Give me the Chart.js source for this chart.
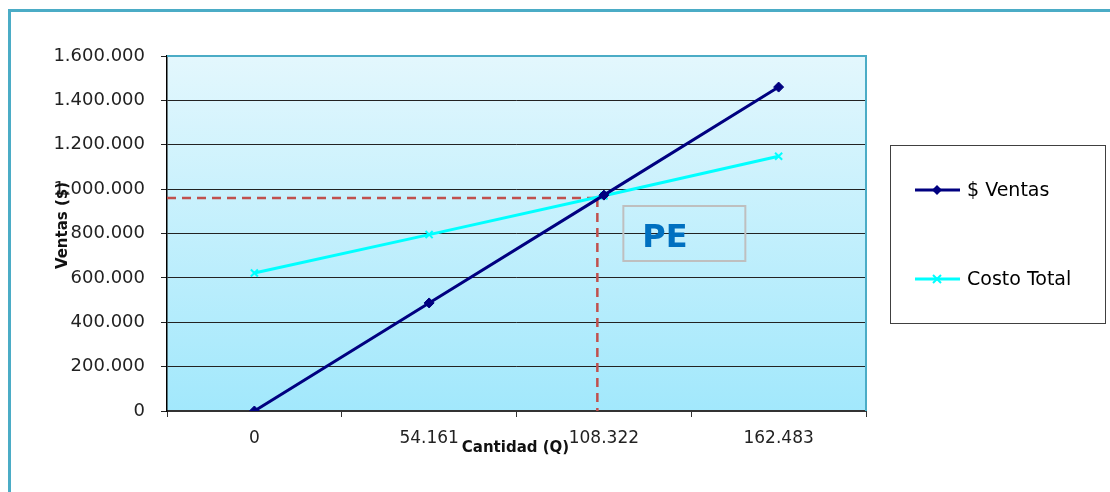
<!DOCTYPE html>
<html>
<head>
<meta charset="utf-8">
<script src="https://cdn.jsdelivr.net/npm/chart.js@4.4.1/dist/chart.umd.min.js"></script>
<style>
  html, body { margin: 0; padding: 0; background: #ffffff; }
  #wrap { position: relative; width: 1110px; height: 492px; }
  canvas { display: block; }
</style>
</head>
<body>
<div id="wrap"><canvas id="c" width="1110" height="492"></canvas></div>
<script>
// ---- data ----
const categories = ['0', '54.161', '108.322', '162.483'];
const quantities = [0, 54161, 108322, 162483];
const ventas = [0, 487000, 973000, 1460000];
const costoTotal = [622000, 795000, 970000, 1148000];
const yMin = 0;
const yMax = 1600000;
const yStep = 200000;
const breakEvenQ = 106300;
const breakEvenValue = 960000;
const seriesNames = ['$ Ventas', 'Costo Total'];
const xTitle = 'Cantidad (Q)';
const yTitle = 'Ventas ($)';
const peLabel = 'PE';

const FONT = '"DejaVu Sans", sans-serif';
const TEAL = '#4BACC6';

function fmt(v) {
  return String(Math.round(v)).replace(/\B(?=(\d{3})+(?!\d))/g, '.');
}

const decor = {
  id: 'decor',
  beforeDraw(chart) {
    const ctx = chart.ctx;
    const a = chart.chartArea;
    ctx.save();
    // outer frame
    ctx.fillStyle = TEAL;
    ctx.fillRect(8, 9, 3, 492 - 9);
    ctx.fillRect(8, 9, 1110 - 8, 3);
    // plot gradient
    const g = ctx.createLinearGradient(0, a.top, 0, a.bottom);
    g.addColorStop(0, '#e3f7fd');
    g.addColorStop(1, '#a2e8fc');
    ctx.fillStyle = g;
    ctx.fillRect(a.left, a.top, a.right - a.left, a.bottom - a.top);
    ctx.restore();
  },
  beforeDatasetsDraw(chart) {
    const ctx = chart.ctx;
    const a = chart.chartArea;
    const xs = chart.scales.x, ys = chart.scales.y;
    ctx.save();
    // plot border top/right
    ctx.strokeStyle = TEAL;
    ctx.lineWidth = 2;
    ctx.beginPath();
    ctx.moveTo(a.left, a.top);
    ctx.lineTo(a.right, a.top);
    ctx.lineTo(a.right, a.bottom);
    ctx.stroke();
    // break-even dashed lines
    const peIdx = breakEvenQ / quantities[1];
    const px = xs.getPixelForValue(peIdx);
    const py = ys.getPixelForValue(breakEvenValue);
    ctx.strokeStyle = '#C0504D';
    ctx.lineWidth = 2.5;
    ctx.setLineDash([9, 6]);
    ctx.beginPath();
    ctx.moveTo(a.left, py);
    ctx.lineTo(px + 10, py);
    ctx.moveTo(px, py);
    ctx.lineTo(px, a.bottom);
    ctx.stroke();
    ctx.setLineDash([]);
    // PE box
    const bx = px + 26, by = py + 8, bw = 122, bh = 55;
    ctx.strokeStyle = '#bfbfbf';
    ctx.lineWidth = 2;
    ctx.strokeRect(bx, by, bw, bh);
    ctx.fillStyle = '#0070C0';
    ctx.font = 'bold 32px ' + FONT;
    ctx.textAlign = 'left';
    ctx.textBaseline = 'middle';
    ctx.fillText(peLabel, bx + 19, by + bh / 2 + 5);
    ctx.restore();
  },
  afterDraw(chart) {
    const ctx = chart.ctx;
    const a = chart.chartArea;
    ctx.save();
    // axis titles
    ctx.fillStyle = '#111';
    ctx.font = 'bold 15px ' + FONT;
    ctx.textAlign = 'center';
    ctx.textBaseline = 'middle';
    ctx.fillText(xTitle, (a.left + a.right) / 2 - 1, a.bottom + 37);
    ctx.save();
    ctx.translate(a.left - 104, (a.top + a.bottom) / 2 - 8);
    ctx.rotate(-Math.PI / 2);
    ctx.font = 'bold 15px ' + FONT;
    ctx.fillText(yTitle, 0, 0);
    ctx.restore();
    // legend
    const lx = a.right + 24, ly = 145, lw = 215, lh = 178;
    ctx.strokeStyle = '#404040';
    ctx.lineWidth = 1;
    ctx.strokeRect(lx + 0.5, ly + 0.5, lw, lh);
    const rows = [ly + 45, ly + 134];
    chart.data.datasets.forEach((ds, i) => {
      const y = rows[i];
      ctx.strokeStyle = ds.borderColor;
      ctx.lineWidth = 3;
      ctx.beginPath();
      ctx.moveTo(lx + 25, y);
      ctx.lineTo(lx + 70, y);
      ctx.stroke();
      const mx = lx + 47;
      if (ds.pointStyle === 'rectRot') {
        ctx.fillStyle = ds.borderColor;
        ctx.beginPath();
        ctx.moveTo(mx, y - 5); ctx.lineTo(mx + 5, y); ctx.lineTo(mx, y + 5); ctx.lineTo(mx - 5, y);
        ctx.closePath(); ctx.fill();
      } else {
        ctx.lineWidth = 2;
        ctx.beginPath();
        ctx.moveTo(mx - 4, y - 4); ctx.lineTo(mx + 4, y + 4);
        ctx.moveTo(mx - 4, y + 4); ctx.lineTo(mx + 4, y - 4);
        ctx.stroke();
      }
      ctx.fillStyle = '#000';
      ctx.font = '19px ' + FONT;
      ctx.textAlign = 'left';
      ctx.textBaseline = 'middle';
      ctx.fillText(ds.label, lx + 77, y + 1);
    });
    ctx.restore();
  }
};

new Chart(document.getElementById('c'), {
  type: 'line',
  data: {
    labels: categories,
    datasets: [
      {
        label: seriesNames[0],
        data: ventas,
        borderColor: '#000080',
        backgroundColor: '#000080',
        borderWidth: 3,
        pointStyle: 'rectRot',
        pointRadius: 5,
        pointBorderWidth: 1,
        tension: 0
      },
      {
        label: seriesNames[1],
        data: costoTotal,
        borderColor: '#00FFFF',
        backgroundColor: '#00FFFF',
        borderWidth: 3,
        pointStyle: 'crossRot',
        pointRadius: 5,
        pointBorderWidth: 2,
        tension: 0
      }
    ]
  },
  options: {
    responsive: false,
    animation: false,
    events: [],
    layout: { padding: { left: 0, top: 56, right: 244, bottom: 0 } },
    plugins: { legend: { display: false }, tooltip: { enabled: false }, title: { display: false } },
    scales: {
      x: {
        type: 'category',
        offset: true,
        afterFit(s) { s.height = 81; },
        grid: { offset: true, drawOnChartArea: false, drawTicks: true, tickLength: 6, color: '#333', lineWidth: 1 },
        border: { display: true, color: '#333', width: 2 },
        ticks: { color: '#222', font: { family: FONT, size: 17 }, padding: 11, maxRotation: 0, autoSkip: false }
      },
      y: {
        min: yMin,
        max: yMax,
        afterFit(s) { s.width = 167; },
        grid: { color: '#222', lineWidth: 1, tickLength: 6, drawTicks: true },
        border: { display: true, color: '#000', width: 1.5 },
        ticks: {
          stepSize: yStep,
          color: '#222',
          padding: 16,
          font: { family: FONT, size: 18 },
          callback: (v) => fmt(v)
        }
      }
    }
  },
  plugins: [decor]
});
</script>
</body>
</html>
